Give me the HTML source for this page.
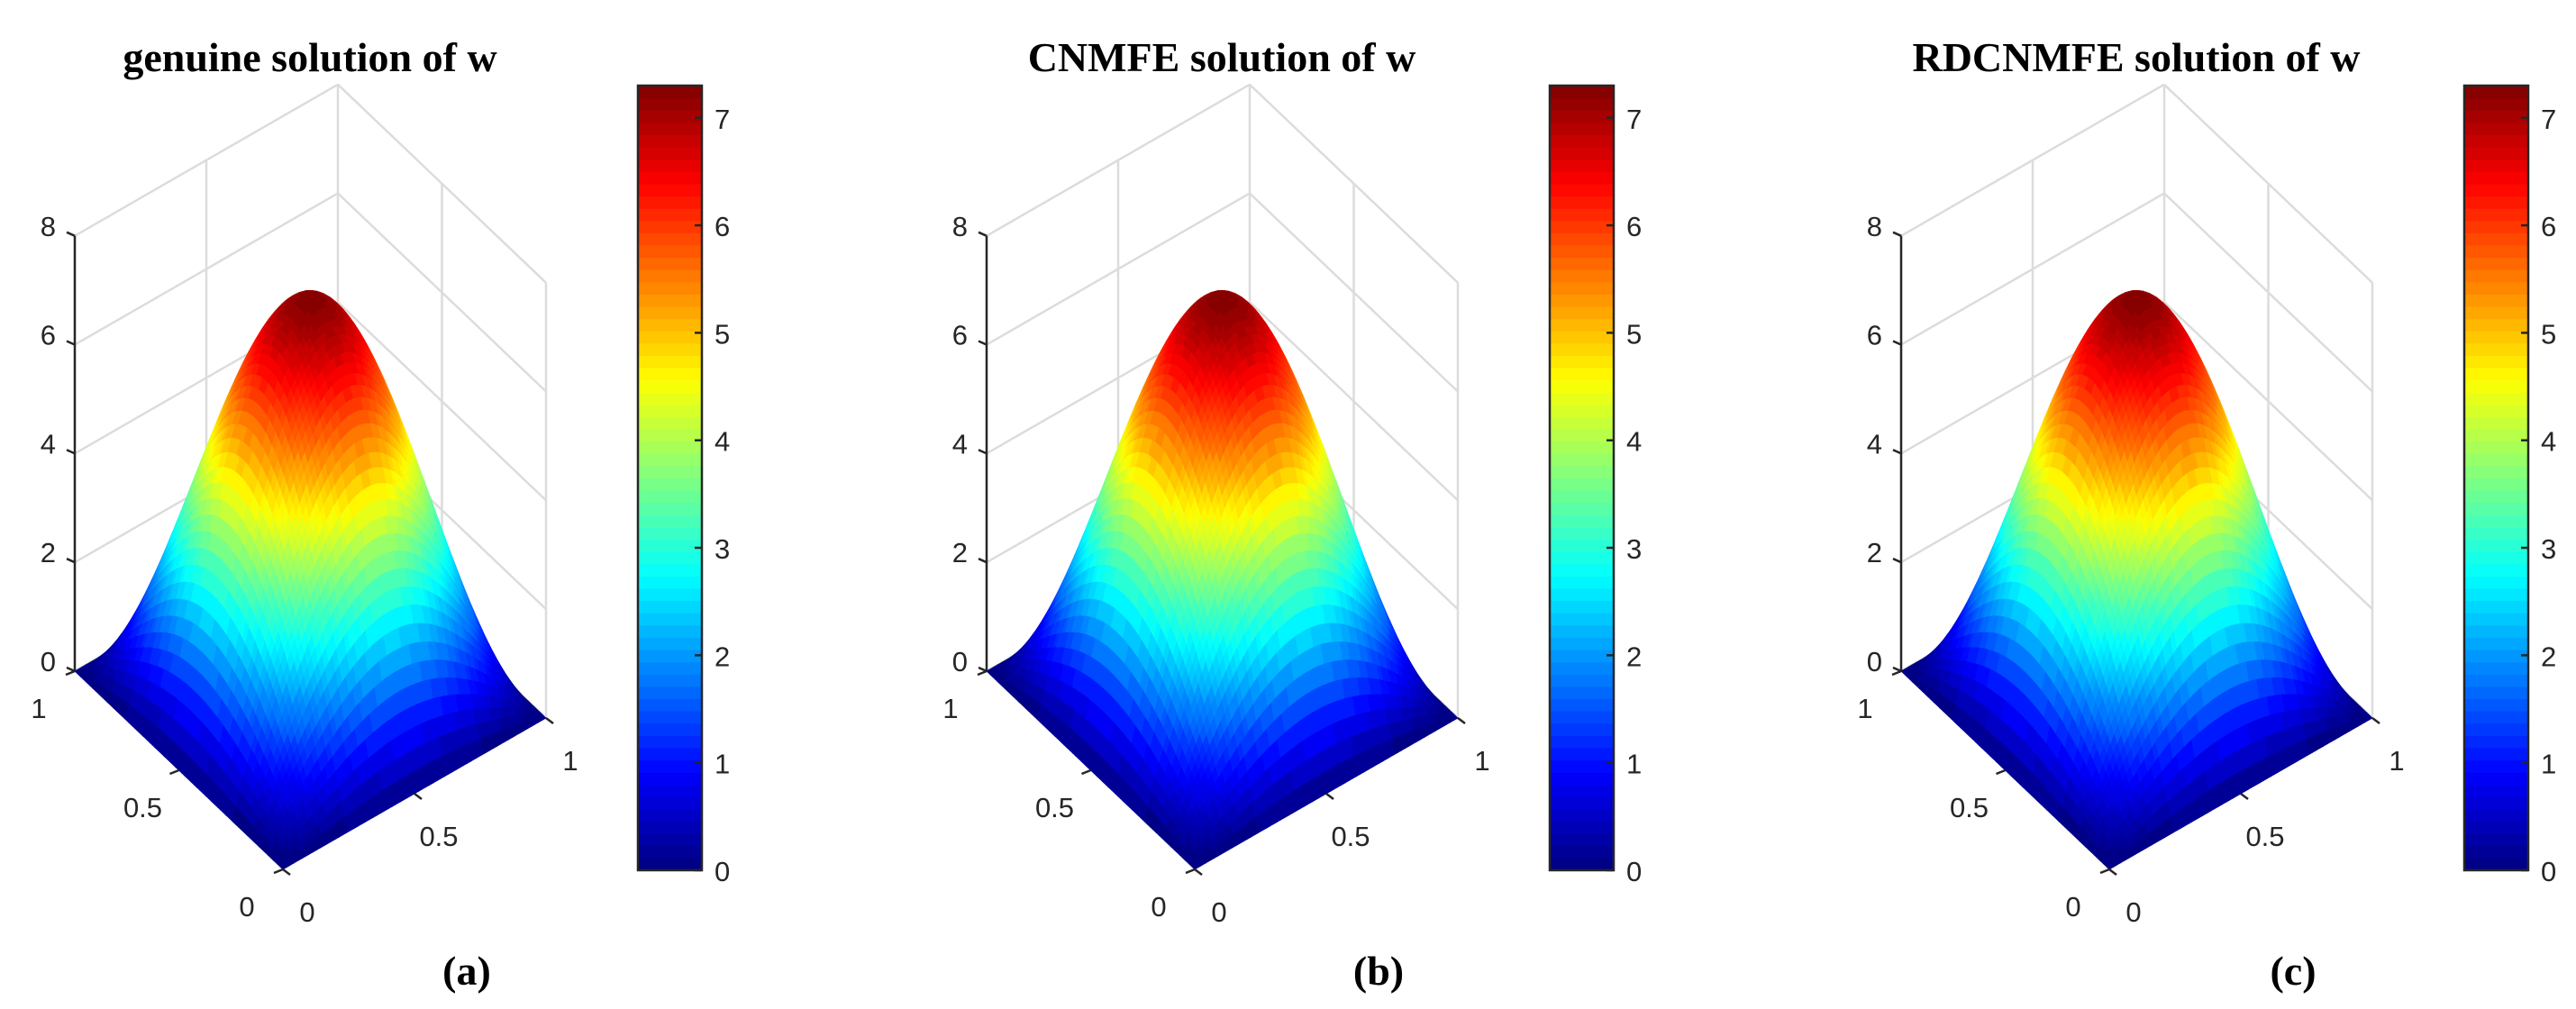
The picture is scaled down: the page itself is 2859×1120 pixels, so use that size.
<!DOCTYPE html>
<html><head><meta charset="utf-8"><style>
html,body{margin:0;padding:0;background:#fff;}
svg{display:block;}
.tk{font-family:"Liberation Sans",sans-serif;font-size:31px;fill:#262626;}
.ti{font-family:"Liberation Serif",serif;font-weight:bold;font-size:46px;fill:#000;}
</style></head><body>
<svg id="fig" width="2859" height="1120" viewBox="0 0 2859 1120" xmlns="http://www.w3.org/2000/svg"></svg>
<script>
const panelTitles = ["genuine solution of w", "CNMFE solution of w", "RDCNMFE solution of w"];
const panelLetters = ["(a)", "(b)", "(c)"];
const panelPeaks = [7.28, 7.28, 7.28];
const zTicks = [0, 2, 4, 6, 8];
const xyTicks = [0, 0.5, 1];
const cbarTicks = [0, 1, 2, 3, 4, 5, 6, 7];
const cbarMax = 7.3;

const NS = "http://www.w3.org/2000/svg";
const svg = document.getElementById("fig");
const offsets = [0, 1012, 2027];
const N = 70, LEVELS = 64, ZS = 60.4;

function jet(t){
  t = Math.max(0, Math.min(1, t));
  const f = v => Math.round(255*Math.max(0, Math.min(1, v)));
  const r = 1.5 - Math.abs(4*t - 3), g = 1.5 - Math.abs(4*t - 2), b = 1.5 - Math.abs(4*t - 1);
  return `rgb(${f(r)},${f(g)},${f(b)})`;
}
function mk(tag, attrs, parent){
  const e = document.createElementNS(NS, tag);
  for (const k in attrs) e.setAttribute(k, attrs[k]);
  (parent || svg).appendChild(e);
  return e;
}

offsets.forEach((ox, p) => {
  const g = mk("g", {});
  
  
  const F = [314 + ox, 965], R = [606 + ox, 797], L = [83 + ox, 745];
  const proj = (x, y, z) => [F[0] + x*(R[0]-F[0]) + y*(L[0]-F[0]), F[1] + x*(R[1]-F[1]) + y*(L[1]-F[1]) - z*ZS];
  const ln = (a, b, st, w, parent) => mk("line", {x1:a[0], y1:a[1], x2:b[0], y2:b[1], stroke:st, "stroke-width":w}, parent || g);

  const grid = mk("g", {}, g);
  
  
  zTicks.forEach(z => {
    ln(proj(0,1,z), proj(1,1,z), "#dcdcdc", 2.5, grid);
    ln(proj(1,1,z), proj(1,0,z), "#dcdcdc", 2.5, grid);
  });
  [0.5, 1].forEach(x => ln(proj(x,1,0), proj(x,1,8), "#dcdcdc", 2.5, grid));
  [0.5, 0].forEach(y => ln(proj(1,y,0), proj(1,y,8), "#dcdcdc", 2.5, grid));

  const zax = mk("g", {}, g);
  
  
  ln(proj(0,1,0), proj(0,1,8), "#262626", 2.5, zax);
  zTicks.forEach(z => {
    const a = proj(0,1,z);
    ln(a, [a[0]-9, a[1]-4], "#262626", 2.5, zax);
    const t = mk("text", {x:a[0]-21, y:a[1], "text-anchor":"end", class:"tk"}, zax);
    t.textContent = z;
  });

  const surf = mk("g", {}, g);
  
  
  const A = panelPeaks[p];
  const w = (x, y) => A * Math.sin(Math.PI*x) * Math.sin(Math.PI*y);
  const faces = [];
  for (let i = 0; i < N; i++) for (let j = 0; j < N; j++) {
    const x0 = i/N, x1 = (i+1)/N, y0 = j/N, y1 = (j+1)/N;
    const zs = [w(x0,y0), w(x1,y0), w(x1,y1), w(x0,y1)];
    faces.push({x0, x1, y0, y1, zs, d: 168*(x0+x1) + 220*(y0+y1)});
  }
  faces.sort((a, b) => b.d - a.d);
  let html = "";
  faces.forEach(f => {
    const pts = [proj(f.x0,f.y0,f.zs[0]), proj(f.x1,f.y0,f.zs[1]), proj(f.x1,f.y1,f.zs[2]), proj(f.x0,f.y1,f.zs[3])];
    const m = (f.zs[0]+f.zs[1]+f.zs[2]+f.zs[3])/4;
    const lvl = Math.min(LEVELS-1, Math.floor(m/cbarMax*LEVELS));
    const c = jet((lvl+0.5)/LEVELS);
    html += `<polygon points="${pts.map(q => q[0].toFixed(1)+','+q[1].toFixed(1)).join(' ')}" fill="${c}" stroke="${c}" stroke-width="0.8"/>`;
  });
  surf.innerHTML = html;

  const bax = mk("g", {}, g);
  
  
  xyTicks.forEach(v => {
    const a = proj(0, v, 0);
    ln(a, [a[0]-10, a[1]+4], "#262626", 2.5, bax);
    const t = mk("text", {x:a[0]-40, y:a[1]+52, "text-anchor":"middle", class:"tk"}, bax);
    t.textContent = v;
    const b = proj(v, 0, 0);
    ln(b, [b[0]+8, b[1]+6], "#262626", 2.5, bax);
    const t2 = mk("text", {x:b[0]+27, y:b[1]+58, "text-anchor":"middle", class:"tk"}, bax);
    t2.textContent = v;
  });

  const cb = mk("g", {}, g);
  
  
  const cx = 708 + ox, cw = 71, cy0 = 966, cy1 = 95;
  const cyv = v => cy0 - v/cbarMax*(cy0-cy1);
  for (let k = 0; k < LEVELS; k++) {
    const ya = cy0 - k*(cy0-cy1)/LEVELS, yb = cy0 - (k+1)*(cy0-cy1)/LEVELS;
    mk("rect", {x:cx, y:yb, width:cw, height:ya-yb+0.6, fill:jet((k+0.5)/LEVELS)}, cb);
  }
  mk("rect", {x:cx, y:cy1, width:cw, height:cy0-cy1, fill:"none", stroke:"#262626", "stroke-width":2.5}, cb);
  cbarTicks.forEach(v => {
    const y = cyv(v);
    ln([cx+cw-8, y], [cx+cw, y], "#262626", 2.5, cb);
    const t = mk("text", {x:cx+cw+14, y:y+12, class:"tk"}, cb);
    t.textContent = v;
  });

  const title = mk("text", {x:344 + ox, y:79, "text-anchor":"middle", class:"ti"}, g);
  
  
  title.textContent = panelTitles[p];
  const lab = mk("text", {x:518 + ox, y:1093, "text-anchor":"middle", class:"ti", "font-size":"46"}, g);
  
  
  lab.textContent = panelLetters[p];
});
</script>
</body></html>
